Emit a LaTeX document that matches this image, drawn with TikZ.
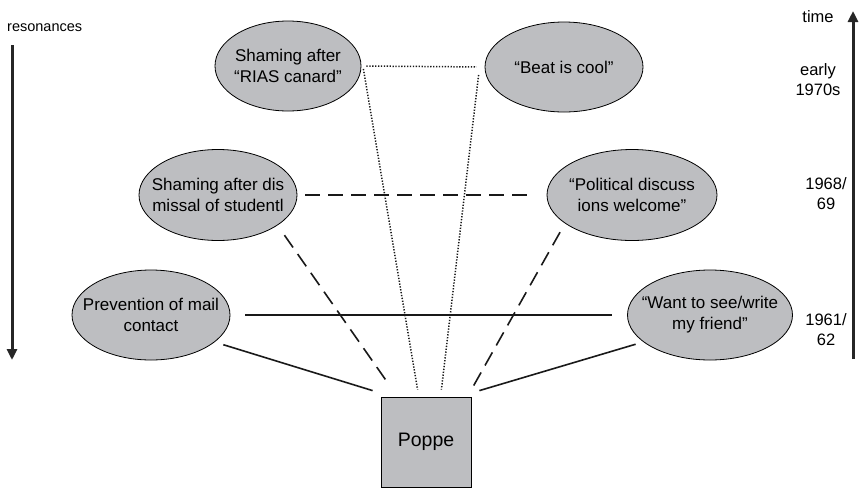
\documentclass[tikz,border=0pt]{standalone}
\usepackage{fontspec}
\setmainfont{Liberation Sans}
\usetikzlibrary{shapes.geometric,arrows.meta}
\definecolor{bubblegray}{RGB}{189,190,193}
\begin{document}
\begin{tikzpicture}[x=1pt,y=-1pt,
  bubble/.style={ellipse,draw=black,line width=0.8pt,fill=bubblegray,inner sep=0pt},
  btext/.style={font=\fontsize{17}{21}\selectfont,align=center,inner sep=0pt},
  ylabel/.style={font=\fontsize{16.5}{20}\selectfont,align=center,inner sep=0pt},
  solidlink/.style={line width=1.6pt,draw=black!90},
  dashlink/.style={line width=1.6pt,draw=black!90,dash pattern=on 15pt off 8pt},
  dotlink/.style={line width=1.5pt,draw=black!90,dash pattern=on 1.3pt off 1.6pt},
  timeaxis/.style={line width=3pt,draw=black!85,-{Triangle[width=10pt,length=11pt]}}
]
\useasboundingbox (0,0) rectangle (859,488);

% resonance axis
\node[font=\fontsize{14.5}{17}\selectfont,anchor=west,inner sep=0pt] (reslabel) at (7,28) {resonances};
\coordinate (restop) at (12,45);
\coordinate (resbot) at (12,360);
\draw[timeaxis] (restop) -- (resbot);

% time axis
\coordinate (timebot) at (853,359);
\coordinate (timetop) at (853,11);
\draw[timeaxis] (timebot) -- (timetop);
\node[ylabel] (tlabel) at (818,17) {time};
\node[ylabel] (t70) at (818,80) {early\\1970s};
\node[ylabel] (t68) at (826,194) {1968/\\69};
\node[ylabel] (t61) at (826,330) {1961/\\62};

% resonance bubbles
\node[bubble,minimum width=146pt,minimum height=90pt] (rias) at (288,66) {};
\node[btext] (riast) at (rias.center) {Shaming after\\“RIAS canard”};
\node[bubble,minimum width=158pt,minimum height=90pt] (beat) at (564,67) {};
\node[btext] (beatt) at (beat.center) {“Beat is cool”};
\node[bubble,minimum width=158pt,minimum height=91pt] (dism) at (218,195) {};
\node[btext] (dismt) at (dism.center) {Shaming after dis\\missal of studentl};
\node[bubble,minimum width=170pt,minimum height=91pt] (polit) at (632,195) {};
\node[btext] (politt) at (polit.center) {“Political discuss\\ions welcome”};
\node[bubble,minimum width=158pt,minimum height=90pt] (mail) at (151,315) {};
\node[btext] (mailt) at (mail.center) {Prevention of mail\\contact};
\node[bubble,minimum width=165pt,minimum height=90pt] (want) at (710,315) {};
\node[btext] (wantt) at (want.center) {“Want to see/write\\my friend”};

% Poppe
\node[draw=black,line width=0.8pt,fill=bubblegray,minimum width=90pt,minimum height=90pt,
      inner sep=0pt,font=\fontsize{19.5}{22}\selectfont] (poppe) at (426,442) {Poppe};

% links between bubbles of the same period
\draw[solidlink,shorten <=15pt,shorten >=15pt] (mail.east) -- (want.west);
\draw[dashlink,shorten <=8pt,shorten >=19pt] (dism.east) -- (polit.west);
\draw[dotlink,shorten <=5pt,shorten >=8pt] (rias.east) -- (beat.west);

% links to Poppe
\draw[solidlink,shorten <=9pt] (mail.-23) -- ([xshift=-8pt,yshift=6pt]poppe.north west);
\draw[solidlink,shorten <=8pt] (want.202) -- ([xshift=8pt,yshift=6pt]poppe.north east);
\draw[dashlink,shorten <=12pt] (dism.-27) -- ([xshift=7pt,yshift=14pt]poppe.north west);
\draw[dashlink,shorten <=10pt] (polit.203) -- ([yshift=7pt]poppe.north east);
\draw[dotlink] ([xshift=2pt,yshift=-3pt]rias.east) -- ([xshift=37pt,yshift=7pt]poppe.north west);
\draw[dotlink] ([xshift=-6pt,yshift=-8pt]beat.west) -- ([xshift=-30pt,yshift=7pt]poppe.north east);
\end{tikzpicture}
\end{document}
